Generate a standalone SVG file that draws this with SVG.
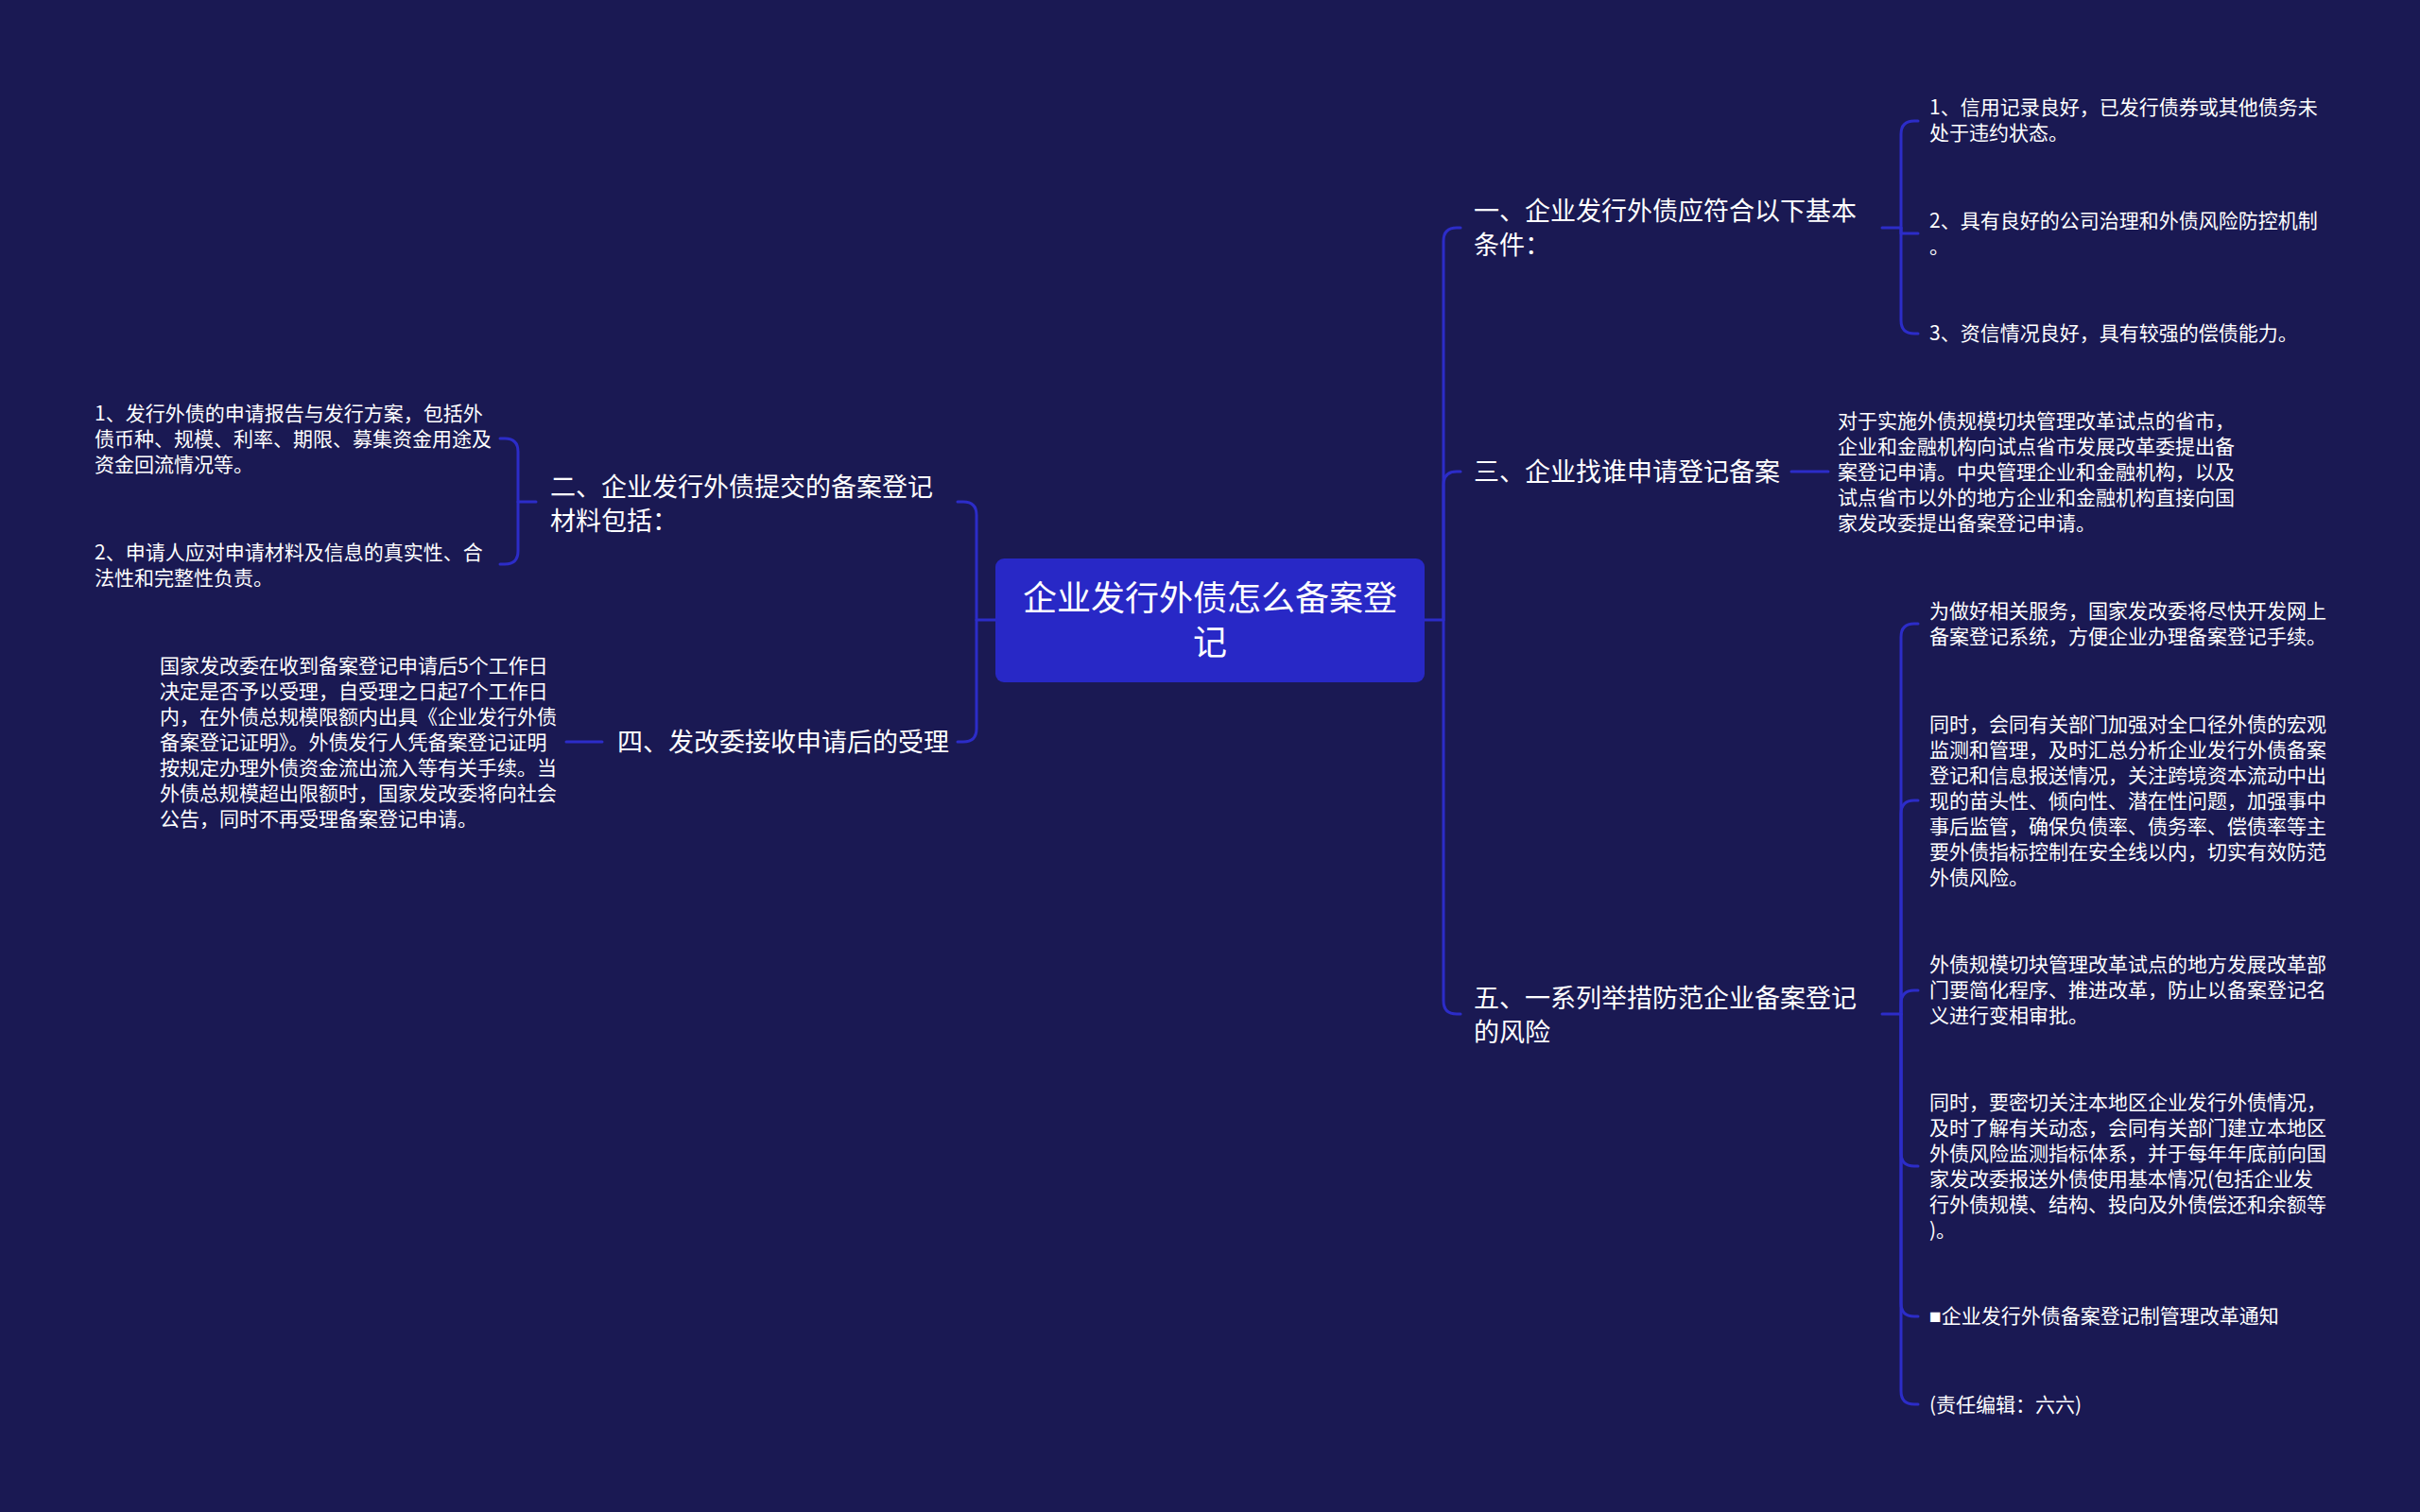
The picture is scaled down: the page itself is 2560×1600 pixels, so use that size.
<svg xmlns="http://www.w3.org/2000/svg" width="2560" height="1600" viewBox="0 0 2560 1600">
<style>
text{font-family:"Noto Sans CJK SC","Noto Sans",sans-serif;fill:#ffffff}
.root{font-size:36px}
.br{font-size:27px}
.lf{font-size:21px}
.sq{font-family:"Liberation Sans","DejaVu Sans",sans-serif}
.c{fill:none;stroke:#2c2cc8;stroke-width:3;stroke-linecap:round;stroke-linejoin:round}
</style>
<rect width="2560" height="1600" fill="#1a1953"/>
<g id="connectors">
<path class="c" d="M1507 656 H1527 V255 Q1527 241 1541 241 H1545"/>
<path class="c" d="M1527 656 V513 Q1527 499 1541 499 H1545"/>
<path class="c" d="M1527 656 V1059 Q1527 1073 1541 1073 H1545"/>
<path class="c" d="M1053 656 H1033 V545 Q1033 531 1019 531 H1013"/>
<path class="c" d="M1033 656 V771 Q1033 785 1019 785 H1013"/>
<path class="c" d="M1991 241 H2011 V142 Q2011 128 2025 128 H2029"/>
<path class="c" d="M2011 241 V247 H2029"/>
<path class="c" d="M2011 241 V339 Q2011 353 2025 353 H2029"/>
<path class="c" d="M1895 499 H1934"/>
<path class="c" d="M1991 1073 H2011 V674 Q2011 660 2025 660 H2029"/>
<path class="c" d="M2011 1073 V861 Q2011 847 2025 847 H2029"/>
<path class="c" d="M2011 1073 V1062 Q2011 1048 2025 1048 H2029"/>
<path class="c" d="M2011 1073 V1220 Q2011 1234 2025 1234 H2029"/>
<path class="c" d="M2011 1073 V1379 Q2011 1393 2025 1393 H2029"/>
<path class="c" d="M2011 1073 V1472 Q2011 1486 2025 1486 H2029"/>
<path class="c" d="M567 531 H548 V478 Q548 464 534 464 H529"/>
<path class="c" d="M548 531 V583 Q548 597 534 597 H529"/>
<path class="c" d="M637 785 H599"/>
</g>
<g id="root">
<rect x="1053" y="591" width="454" height="131" rx="9" fill="#2828c6"/>
<text class="root" x="1280" y="646" text-anchor="middle">企业发行外债怎么备案登</text>
<text class="root" x="1280" y="693" text-anchor="middle">记</text>
</g>
<g id="b1">
<text class="br" x="1559" y="233">一、企业发行外债应符合以下基本</text>
<text class="br" x="1559" y="269">条件：</text>
</g>
<g id="b1c1">
<text class="lf" x="2041" y="121">1、信用记录良好，已发行债券或其他债务未</text>
<text class="lf" x="2041" y="148">处于违约状态。</text>
</g>
<g id="b1c2">
<text class="lf" x="2041" y="241">2、具有良好的公司治理和外债风险防控机制</text>
<text class="lf" x="2041" y="268">。</text>
</g>
<g id="b1c3">
<text class="lf" x="2041" y="360">3、资信情况良好，具有较强的偿债能力。</text>
</g>
<g id="b3">
<text class="br" x="1559" y="509">三、企业找谁申请登记备案</text>
</g>
<g id="b3c1">
<text class="lf" x="1944" y="453">对于实施外债规模切块管理改革试点的省市，</text>
<text class="lf" x="1944" y="480">企业和金融机构向试点省市发展改革委提出备</text>
<text class="lf" x="1944" y="507">案登记申请。中央管理企业和金融机构，以及</text>
<text class="lf" x="1944" y="534">试点省市以外的地方企业和金融机构直接向国</text>
<text class="lf" x="1944" y="561">家发改委提出备案登记申请。</text>
</g>
<g id="b5">
<text class="br" x="1559" y="1066">五、一系列举措防范企业备案登记</text>
<text class="br" x="1559" y="1102">的风险</text>
</g>
<g id="b5c1">
<text class="lf" x="2041" y="654">为做好相关服务，国家发改委将尽快开发网上</text>
<text class="lf" x="2041" y="681">备案登记系统，方便企业办理备案登记手续。</text>
</g>
<g id="b5c2">
<text class="lf" x="2041" y="774">同时，会同有关部门加强对全口径外债的宏观</text>
<text class="lf" x="2041" y="801">监测和管理，及时汇总分析企业发行外债备案</text>
<text class="lf" x="2041" y="828">登记和信息报送情况，关注跨境资本流动中出</text>
<text class="lf" x="2041" y="855">现的苗头性、倾向性、潜在性问题，加强事中</text>
<text class="lf" x="2041" y="882">事后监管，确保负债率、债务率、偿债率等主</text>
<text class="lf" x="2041" y="909">要外债指标控制在安全线以内，切实有效防范</text>
<text class="lf" x="2041" y="936">外债风险。</text>
</g>
<g id="b5c3">
<text class="lf" x="2041" y="1028">外债规模切块管理改革试点的地方发展改革部</text>
<text class="lf" x="2041" y="1055">门要简化程序、推进改革，防止以备案登记名</text>
<text class="lf" x="2041" y="1082">义进行变相审批。</text>
</g>
<g id="b5c4">
<text class="lf" x="2041" y="1174">同时，要密切关注本地区企业发行外债情况，</text>
<text class="lf" x="2041" y="1201">及时了解有关动态，会同有关部门建立本地区</text>
<text class="lf" x="2041" y="1228">外债风险监测指标体系，并于每年年底前向国</text>
<text class="lf" x="2041" y="1255">家发改委报送外债使用基本情况(包括企业发</text>
<text class="lf" x="2041" y="1282">行外债规模、结构、投向及外债偿还和余额等</text>
<text class="lf" x="2041" y="1309">)。</text>
</g>
<g id="b5c5">
<text class="lf" x="2041" y="1400"><tspan class="sq">■</tspan>企业发行外债备案登记制管理改革通知</text>
</g>
<g id="b5c6">
<text class="lf" x="2041" y="1494">(责任编辑：六六)</text>
</g>
<g id="b2">
<text class="br" x="582" y="525">二、企业发行外债提交的备案登记</text>
<text class="br" x="582" y="561">材料包括：</text>
</g>
<g id="b2c1">
<text class="lf" x="100" y="445">1、发行外债的申请报告与发行方案，包括外</text>
<text class="lf" x="100" y="472">债币种、规模、利率、期限、募集资金用途及</text>
<text class="lf" x="100" y="499">资金回流情况等。</text>
</g>
<g id="b2c2">
<text class="lf" x="100" y="592">2、申请人应对申请材料及信息的真实性、合</text>
<text class="lf" x="100" y="619">法性和完整性负责。</text>
</g>
<g id="b4">
<text class="br" x="653" y="795">四、发改委接收申请后的受理</text>
</g>
<g id="b4c1">
<text class="lf" x="169" y="712">国家发改委在收到备案登记申请后5个工作日</text>
<text class="lf" x="169" y="739">决定是否予以受理，自受理之日起7个工作日</text>
<text class="lf" x="169" y="766">内，在外债总规模限额内出具《企业发行外债</text>
<text class="lf" x="169" y="793">备案登记证明》。外债发行人凭备案登记证明</text>
<text class="lf" x="169" y="820">按规定办理外债资金流出流入等有关手续。当</text>
<text class="lf" x="169" y="847">外债总规模超出限额时，国家发改委将向社会</text>
<text class="lf" x="169" y="874">公告，同时不再受理备案登记申请。</text>
</g>
</svg>
